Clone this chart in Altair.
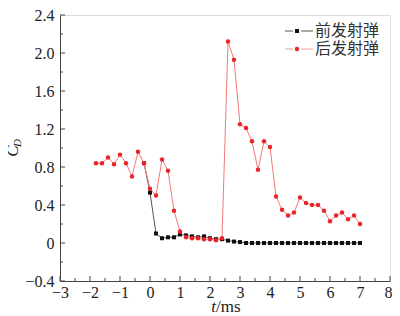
import altair as alt
import pandas as pd

# Data
t_rear = [-1.8, -1.6, -1.4, -1.2, -1.0, -0.8, -0.6, -0.4, -0.2, 0.0, 0.2, 0.4, 0.6, 0.8, 1.0,
          1.2, 1.4, 1.6, 1.8, 2.0, 2.2, 2.4, 2.6, 2.8, 3.0, 3.2, 3.4, 3.6, 3.8, 4.0, 4.2, 4.4,
          4.6, 4.8, 5.0, 5.2, 5.4, 5.6, 5.8, 6.0, 6.2, 6.4, 6.6, 6.8, 7.0]
cd_rear = [0.84, 0.84, 0.90, 0.83, 0.93, 0.84, 0.70, 0.96, 0.84, 0.57, 0.50, 0.88, 0.76, 0.34, 0.12,
           0.06, 0.05, 0.05, 0.04, 0.04, 0.03, 0.05, 2.12, 1.93, 1.25, 1.21, 1.07, 0.77, 1.07, 1.01,
           0.49, 0.35, 0.29, 0.32, 0.48, 0.42, 0.40, 0.40, 0.34, 0.23, 0.29, 0.32, 0.25, 0.29, 0.20]

t_front = [-0.2, 0.0, 0.2, 0.4, 0.6, 0.8, 1.0, 1.2, 1.4, 1.6, 1.8, 2.0, 2.2, 2.4, 2.6, 2.8, 3.0,
           3.2, 3.4, 3.6, 3.8, 4.0, 4.2, 4.4, 4.6, 4.8, 5.0, 5.2, 5.4, 5.6, 5.8, 6.0, 6.2, 6.4,
           6.6, 6.8, 7.0]
cd_front = [0.84, 0.53, 0.10, 0.05, 0.06, 0.06, 0.09, 0.08, 0.07, 0.06, 0.07, 0.05, 0.04, 0.04,
            0.025, 0.015, 0.01, 0.0, 0.0, 0.0, 0.0, 0.0, 0.0, 0.0, 0.0, 0.0, 0.0, 0.0, 0.0, 0.0,
            0.0, 0.0, 0.0, 0.0, 0.0, 0.0, 0.0]

x_major = [-3, -2, -1, 0, 1, 2, 3, 4, 5, 6, 7, 8]
x_minor = [-2.5, -1.5, -0.5, 0.5, 1.5, 2.5, 3.5, 4.5, 5.5, 6.5, 7.5]
y_major = [-0.4, 0.0, 0.4, 0.8, 1.2, 1.6, 2.0, 2.4]
y_minor = [-0.2, 0.2, 0.6, 1.0, 1.4, 1.8, 2.2]

W, H = 330, 266
SERIF = "Liberation Serif"
CJK = "Noto Sans CJK SC"

rear = pd.DataFrame({"t": t_rear, "cd": cd_rear})
front = pd.DataFrame({"t": t_front, "cd": cd_front})
one = pd.DataFrame({"k": [0]})

xs = alt.Scale(domain=[-3, 8], nice=False, zero=False)
ys = alt.Scale(domain=[-0.4, 2.4], nice=False, zero=False)

x_axis = alt.Axis(values=x_major, ticks=False, grid=False, title=None, format="d",
                  labelFont=SERIF, labelFontSize=16, labelColor="#222", labelPadding=3,
                  labelOffset={"condition": {"test": "datum.value == 8", "value": -2}, "value": 0},
                  domainColor="#444", labelFlush=False, labelOverlap=False)
y_axis = alt.Axis(values=y_major, ticks=False, grid=False, title=None,
                  labelExpr="datum.value == 0 ? '0' : format(datum.value, '.1f')",
                  labelFont=SERIF, labelFontSize=16, labelColor="#222", labelPadding=6,
                  domainColor="#444", labelFlush=False, labelOverlap=False)

X = alt.X("t:Q", scale=xs, axis=x_axis)
Y = alt.Y("cd:Q", scale=ys, axis=y_axis)

front_line = alt.Chart(front).mark_line(color="#555555", strokeWidth=1).encode(x=X, y=Y)
front_pts = alt.Chart(front).mark_point(shape="square", filled=True, size=16, color="#111111",
                                        opacity=1).encode(x=X, y=Y)
rear_line = alt.Chart(rear).mark_line(color="#f47a7a", strokeWidth=1).encode(x=X, y=Y)
rear_pts = alt.Chart(rear).mark_point(shape="circle", filled=True, size=20, color="#e8262a",
                                      opacity=1).encode(x=X, y=Y)

# inside ticks
XV = alt.X("v:Q", scale=xs, axis=x_axis)
YV = alt.Y("v:Q", scale=ys, axis=y_axis)
xmaj = alt.Chart(pd.DataFrame({"v": x_major})).mark_rule(color="#444", strokeWidth=1).encode(
    x=XV, y=alt.value(H), y2=alt.value(H - 5))
xmin = alt.Chart(pd.DataFrame({"v": x_minor})).mark_rule(color="#444", strokeWidth=1).encode(
    x=XV, y=alt.value(H), y2=alt.value(H - 3))
ymaj = alt.Chart(pd.DataFrame({"v": y_major})).mark_rule(color="#444", strokeWidth=1).encode(
    y=YV, x=alt.value(0), x2=alt.value(5))
ymin = alt.Chart(pd.DataFrame({"v": y_minor})).mark_rule(color="#444", strokeWidth=1).encode(
    y=YV, x=alt.value(0), x2=alt.value(3))

# axis titles
c_txt = alt.Chart(one).mark_text(font=SERIF, fontStyle="italic", fontSize=17, angle=270,
                                 align="center", baseline="middle", color="#222").encode(
    x=alt.value(-47), y=alt.value(136), text=alt.value("C"))
d_txt = alt.Chart(one).mark_text(font=SERIF, fontStyle="italic", fontSize=11, angle=270,
                                 align="center", baseline="middle", color="#222").encode(
    x=alt.value(-42), y=alt.value(128), text=alt.value("D"))
t_txt = alt.Chart(one).mark_text(font=SERIF, fontStyle="italic", fontSize=17,
                                 align="right", baseline="alphabetic", color="#222").encode(
    x=alt.value(156), y=alt.value(297), text=alt.value("t"))
ms_txt = alt.Chart(one).mark_text(font=SERIF, fontSize=17,
                                  align="left", baseline="alphabetic", color="#222").encode(
    x=alt.value(156), y=alt.value(297), text=alt.value("/ms"))

# legend
def leg_row(y, line_color, pt_color, shape, size, label):
    l1 = alt.Chart(one).mark_rule(color=line_color, strokeWidth=1).encode(
        x=alt.value(225), x2=alt.value(233), y=alt.value(y))
    l2 = alt.Chart(one).mark_rule(color=line_color, strokeWidth=1).encode(
        x=alt.value(241), x2=alt.value(253), y=alt.value(y))
    p = alt.Chart(one).mark_point(shape=shape, filled=True, size=size, color=pt_color, opacity=1).encode(
        x=alt.value(237), y=alt.value(y))
    tx = alt.Chart(one).mark_text(font=CJK, fontSize=16, align="left", baseline="middle", color="#333").encode(
        x=alt.value(255), y=alt.value(y), text=alt.value(label))
    return [l1, l2, p, tx]

legend = leg_row(16, "#555555", "#111111", "square", 16, "前发射弹") + \
         leg_row(34, "#f7a0a0", "#e8262a", "circle", 20, "后发射弹")

chart = alt.layer(
    front_line, xmaj, xmin, ymaj, ymin, front_pts, rear_line, rear_pts,
    c_txt, d_txt, t_txt, ms_txt, *legend
).properties(
    width=W, height=H,
    autosize=alt.AutoSizeParams(type="none"),
    padding={"left": 52, "top": 7, "right": 2, "bottom": 34},
).configure_view(stroke="#888888", strokeWidth=1.5).configure(background="white")

chart.save("out.html", embed_options={"renderer": "svg", "actions": False})
